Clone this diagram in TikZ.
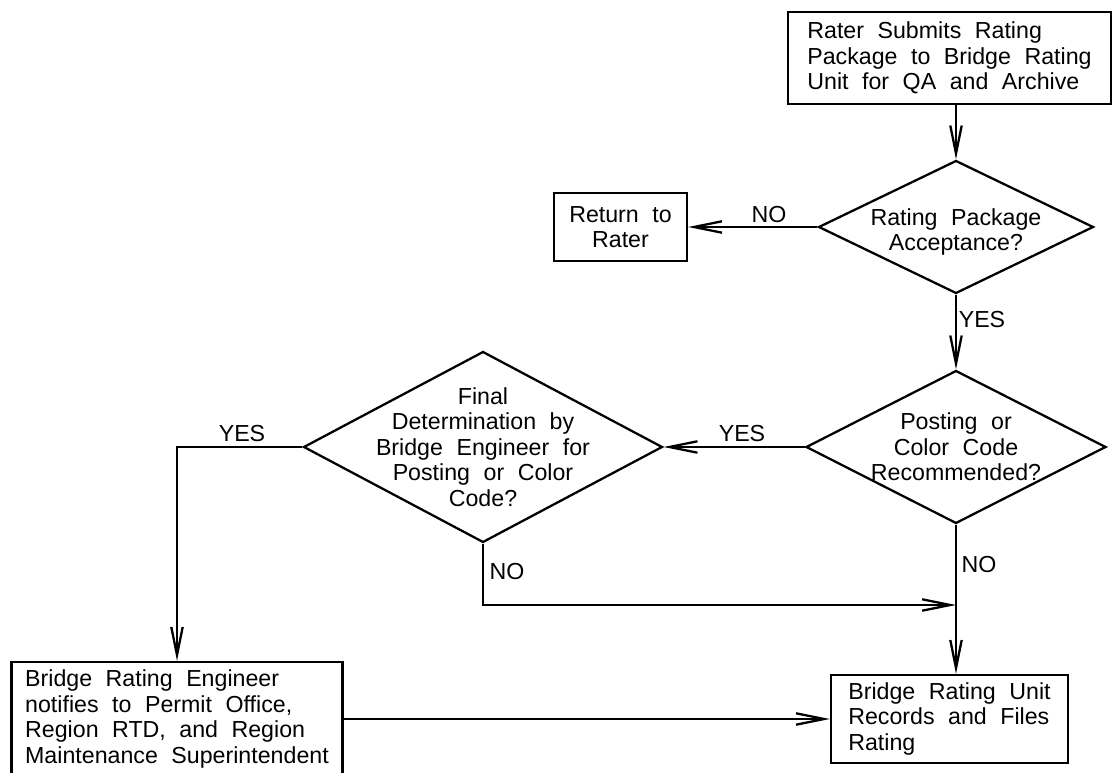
\documentclass[tikz,border=0pt]{standalone}
\usepackage{fontspec}
\setmainfont{Liberation Sans}[WordSpace=2.1]
\usetikzlibrary{shapes.geometric,arrows.meta}

\tikzset{
  box/.style={draw, rectangle, align=left, inner sep=0pt},
  dia/.style={draw, diamond, inner sep=0pt},
  arr/.style={-{Straight Barb[length=16pt,width=6.5pt]}},
}

\begin{document}
\begin{tikzpicture}[x=0.02cm, y=-0.02cm, line width=1.3pt, font=\fontsize{13.2}{14.5}\selectfont]
\useasboundingbox (0,0) rectangle (1113,773);

% boxes
\node[box, minimum width=6.46cm, minimum height=1.84cm] (rater) at (949.5,58)
  {Rater Submits Rating\\Package to Bridge Rating\\Unit for QA and Archive};
\node[box, align=center, minimum width=2.66cm, minimum height=1.36cm] (ret) at (620.5,227)
  {Return to\\Rater};
\node[box, minimum width=6.62cm, minimum height=2.28cm] (eng) at (177,719)
  {Bridge Rating Engineer\\notifies to Permit Office,\\Region RTD, and Region\\Maintenance Superintendent};
\node[box, minimum width=4.74cm, minimum height=1.76cm] (rec) at (949.5,719)
  {Bridge Rating Unit\\Records and Files\\Rating};

% decisions
\node[dia, minimum width=5.5cm, minimum height=2.66cm,
  label={[align=center, yshift=-0.1cm]center:Rating Package\\Acceptance?}] (accept) at (956,227) {};
\node[dia, minimum width=6cm, minimum height=3.06cm,
  label={[align=center]center:Posting or\\Color Code\\Recommended?}] (recom) at (956,447) {};
\node[dia, minimum width=7.18cm, minimum height=3.82cm,
  label={[align=center]center:Final\\Determination by\\Bridge Engineer for\\Posting or Color\\Code?}] (final) at (483,447) {};

% connectors
\coordinate (join) at (956,605);
\draw[arr] (accept.north |- rater.south) -- (accept.north);
\draw[arr] (accept.west) -- (ret.east);
\draw[arr] (accept.south) -- (recom.north);
\draw[arr] (recom.west) -- (final.east);
\draw[arr] (final.west) -| (eng.north);
\draw[arr] (final.south) |- (join);
\draw[arr] (recom.south) -- (recom.south |- rec.north);
\draw[arr] (eng.east) -- (rec.west);

% labels
\node (no1) at (769,215) {NO};
\node (yes1) at (982,320) {YES};
\node (yes2) at (742,434) {YES};
\node (yes3) at (242,434) {YES};
\node (no2) at (507,572) {NO};
\node (no3) at (979,565) {NO};
\end{tikzpicture}
\end{document}
